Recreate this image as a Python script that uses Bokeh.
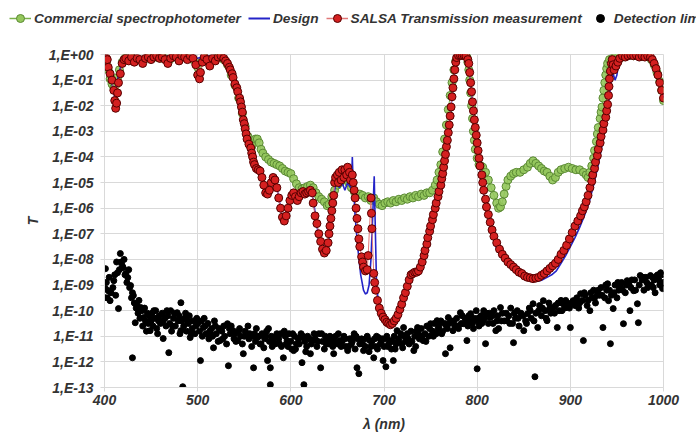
from bokeh.plotting import figure
from bokeh.layouts import column
from bokeh.models import Range1d, FixedTicker, CustomJSTickFormatter, Legend, LegendItem
from bokeh.embed import file_html
from bokeh.resources import INLINE

# ---- data: (wavelength nm, log10 T) ----
salsa = [(400,-0.3),(402,-0.15),(403,-0.2),(404,-0.5),(406,-0.75),(408,-1.0),(410,-1.4),(411,-1.8),(412,-2.1),(413,-1.9),(414,-1.5),(415,-1.1),(417,-0.75),(419,-0.35),(421,-0.2),(423,-0.15),(426,-0.25),(429,-0.1),(432,-0.3),(435,-0.15),(438,-0.2),(441,-0.35),(444,-0.15),(447,-0.1),(450,-0.2),(453,-0.1),(456,-0.05),(459,-0.15),(462,-0.1),(465,-0.2),(468,-0.35),(471,-0.15),(474,-0.05),(477,-0.1),(480,-0.25),(483,-0.05),(486,-0.1),(489,-0.2),(492,-0.05),(495,-0.15),(498,-0.4),(500,-0.8),(502,-0.95),(503,-0.7),(505,-0.3),(507,-0.1),(510,-0.2),(513,-0.45),(516,-0.15),(519,-0.25),(522,-0.1),(525,-0.05),(528,-0.15),(530,-0.25),(532,-0.35),(534,-0.5),(535,-0.6),(537,-0.75),(538,-0.9),(540,-1.15),(542,-1.3),(543,-1.45),(545,-1.7),(546,-1.85),(547,-2.05),(548,-2.25),(549,-2.55),(550,-2.7),(551,-2.9),(552,-3.1),(553,-3.3),(555,-3.5),(557,-3.65),(558,-3.85),(559,-4.0),(560,-4.2),(561,-4.3),(563,-4.45),(565,-4.5),(567,-4.55),(569,-4.8),(571,-5.1),(573,-5.4),(575,-5.45),(577,-5.3),(579,-5.0),(581,-4.8),(583,-4.9),(585,-5.2),(587,-5.6),(589,-6.0),(591,-6.35),(593,-6.5),(595,-6.3),(597,-6.0),(599,-5.7),(601,-5.5),(603,-5.4),(605,-5.55),(607,-5.7),(609,-5.55),(611,-5.4),(613,-5.35),(615,-5.45),(617,-5.4),(619,-5.35),(621,-5.3),(623,-5.4),(624,-5.8),(626,-6.3),(628,-6.6),(630,-7.0),(632,-7.3),(634,-7.6),(636,-7.75),(638,-7.65),(640,-7.35),(641,-7.0),(642,-6.7),(643,-6.4),(644,-6.1),(645,-5.8),(646,-5.5),(647,-5.0),(648,-4.8),(650,-4.7),(651,-5.0),(652,-4.6),(654,-4.9),(655,-4.5),(657,-4.8),(658,-4.5),(660,-4.7),(661,-4.4),(663,-4.6),(664,-4.9),(666,-4.7),(667,-5.0),(668,-5.3),(669,-5.6),(670,-6.0),(671,-6.4),(672,-6.8),(673,-7.2),(674,-7.5),(676,-7.9),(677,-8.1),(678,-8.3),(680,-8.45),(682,-8.4),(683,-7.85),(686,-5.6),(686.5,-6.2),(687,-6.8),(689,-8.55),(690,-8.9),(691,-9.2),(693,-9.6),(695,-9.9),(697,-10.1),(699,-10.25),(701,-10.35),(703,-10.45),(705,-10.5),(707,-10.55),(709,-10.5),(711,-10.4),(713,-10.3),(715,-10.15),(717,-9.95),(719,-9.75),(721,-9.5),(723,-9.3),(725,-9.05),(727,-8.8),(729,-8.6),(731,-8.55),(733,-8.5),(735,-8.5),(737,-8.45),(739,-8.3),(741,-8.1),(743,-7.85),(744,-7.65),(746,-7.4),(747,-7.15),(749,-6.9),(750,-6.7),(752,-6.45),(753,-6.25),(755,-6.0),(756,-5.8),(758,-5.55),(759,-5.35),(761,-5.1),(762,-4.85),(763,-4.65),(764,-4.4),(765,-4.15),(766,-3.9),(767,-3.6),(768,-3.35),(769,-3.05),(770,-2.75),(771,-2.4),(772,-2.05),(773,-1.65),(774,-1.3),(775,-0.95),(776,-0.6),(777,-0.3),(778,-0.12),(780,-0.04),(782,-0.03),(784,-0.04),(786,-0.03),(788,-0.06),(790,-0.2),(791,-0.35),(792,-0.7),(793,-1.1),(794,-1.45),(795,-1.85),(796,-2.2),(797,-2.55),(798,-2.85),(799,-3.15),(800,-3.45),(801,-3.75),(802,-4.05),(803,-4.35),(805,-4.7),(806,-5.0),(807,-5.3),(809,-5.65),(810,-5.95),(812,-6.25),(814,-6.55),(816,-6.85),(818,-7.1),(821,-7.35),(824,-7.6),(827,-7.8),(830,-7.95),(833,-8.1),(836,-8.2),(839,-8.3),(842,-8.4),(845,-8.5),(848,-8.55),(851,-8.65),(854,-8.7),(857,-8.72),(860,-8.75),(863,-8.73),(866,-8.7),(869,-8.62),(872,-8.55),(875,-8.45),(878,-8.35),(881,-8.25),(884,-8.15),(887,-8.0),(890,-7.8),(893,-7.65),(896,-7.45),(899,-7.2),(902,-6.95),(905,-6.7),(908,-6.5),(911,-6.3),(913,-6.1),(915,-5.95),(917,-5.75),(919,-5.5),(921,-5.2),(923,-4.95),(924,-4.7),(926,-4.45),(927,-4.2),(929,-3.95),(930,-3.7),(932,-3.45),(933,-3.2),(935,-2.95),(936,-2.7),(938,-2.45),(939,-2.2),(940,-1.95),(941,-1.6),(941.5,-1.25),(942,-0.95),(943,-0.65),(944,-0.35),(945,-0.2),(946,-0.4),(947,-0.6),(949,-0.45),(951,-0.3),(953,-0.15),(956,-0.05),(959,-0.1),(962,-0.05),(965,-0.02),(968,-0.05),(971,-0.03),(974,-0.1),(977,-0.05),(980,-0.1),(983,-0.05),(986,-0.1),(988,-0.2),(990,-0.35),(992,-0.55),(994,-0.8),(996,-1.1),(998,-1.4),(1000,-1.7)]

commercial = [(400,-0.35),(402,-0.3),(404,-0.6),(406,-0.95),(408,-1.15),(410,-1.3),(412,-1.2),(414,-0.9),(416,-0.6),(419,-0.3),(422,-0.15),(426,-0.2),(430,-0.15),(435,-0.2),(440,-0.25),(445,-0.15),(450,-0.15),(455,-0.1),(460,-0.15),(465,-0.15),(470,-0.2),(475,-0.1),(480,-0.2),(485,-0.1),(490,-0.15),(495,-0.2),(500,-0.5),(504,-0.3),(508,-0.15),(512,-0.3),(516,-0.2),(520,-0.15),(524,-0.1),(528,-0.2),(532,-0.4),(536,-0.8),(540,-1.2),(544,-1.7),(548,-2.3),(551,-2.8),(554,-3.2),(556,-3.5),(558,-3.6),(560,-3.45),(562,-3.3),(564,-3.3),(566,-3.45),(568,-3.7),(570,-3.85),(573,-4.0),(576,-4.1),(579,-4.2),(582,-4.25),(585,-4.3),(588,-4.35),(591,-4.45),(594,-4.55),(597,-4.6),(600,-4.65),(603,-4.85),(606,-5.05),(609,-5.2),(612,-5.25),(615,-5.2),(618,-5.15),(621,-5.1),(624,-5.2),(627,-5.4),(630,-5.55),(633,-5.65),(636,-5.75),(639,-5.9),(641,-5.85),(644,-5.55),(647,-5.3),(650,-5.1),(653,-5.0),(656,-4.9),(659,-4.85),(662,-5.0),(665,-5.2),(668,-5.35),(671,-5.5),(674,-5.45),(677,-5.5),(680,-5.6),(683,-5.55),(686,-5.7),(689,-5.6),(692,-5.75),(695,-5.85),(698,-5.9),(701,-5.8),(704,-5.75),(707,-5.8),(710,-5.7),(713,-5.75),(716,-5.65),(719,-5.7),(722,-5.6),(725,-5.65),(728,-5.55),(731,-5.6),(734,-5.5),(737,-5.55),(740,-5.45),(743,-5.5),(746,-5.4),(749,-5.4),(752,-5.3),(755,-5.1),(757,-4.9),(759,-4.6),(761,-4.3),(763,-3.8),(765,-3.3),(767,-2.75),(769,-2.15),(771,-1.6),(773,-1.1),(775,-0.6),(777,-0.25),(780,-0.06),(783,-0.03),(786,-0.04),(789,-0.1),(790,-0.3),(791,-0.6),(792,-1.0),(793,-1.5),(794,-2.0),(795,-2.5),(796,-3.0),(797,-3.35),(798,-3.7),(800,-4.05),(802,-4.3),(804,-4.35),(806,-4.4),(809,-4.6),(812,-4.9),(815,-5.2),(818,-5.5),(821,-5.8),(823,-6.0),(825,-5.95),(827,-5.75),(829,-5.45),(831,-5.15),(833,-4.9),(836,-4.75),(839,-4.65),(842,-4.6),(846,-4.6),(850,-4.5),(854,-4.4),(857,-4.25),(860,-4.15),(863,-4.25),(866,-4.35),(869,-4.45),(872,-4.55),(875,-4.6),(878,-4.75),(881,-4.9),(884,-4.8),(887,-4.6),(890,-4.5),(894,-4.45),(898,-4.4),(902,-4.45),(906,-4.5),(910,-4.5),(914,-4.6),(917,-4.7),(919,-4.8),(921,-4.6),(923,-4.35),(925,-4.05),(926,-3.75),(928,-3.4),(929,-3.1),(930,-2.85),(932,-2.5),(933,-2.25),(934,-2.05),(935,-1.7),(936,-1.4),(937,-1.1),(938,-0.8),(939,-0.55),(940,-0.35),(942,-0.2),(945,-0.15),(948,-0.1),(952,-0.05),(956,-0.1),(960,-0.05),(964,-0.02),(968,-0.05),(972,-0.05),(976,-0.08),(980,-0.05),(984,-0.1),(987,-0.2),(990,-0.4),(993,-0.7),(996,-1.05),(998,-1.4),(1000,-1.8)]

design = [(400,-0.1),(403,-0.2),(406,-0.6),(409,-1.3),(411,-1.7),(413,-1.2),(415,-0.8),(418,-0.4),(421,-0.15),(430,-0.1),(440,-0.1),(450,-0.05),(460,-0.1),(470,-0.05),(480,-0.1),(490,-0.05),(500,-0.15),(510,-0.05),(520,-0.1),(527,-0.1),(532,-0.3),(537,-0.8),(541,-1.3),(545,-1.9),(549,-2.6),(553,-3.3),(556,-3.8),(558,-4.0),(560,-4.2),(562,-4.05),(564,-4.4),(567,-4.6),(570,-5.0),(573,-5.4),(576,-5.4),(579,-5.0),(581,-4.8),(584,-5.0),(587,-5.6),(590,-6.2),(593,-6.5),(596,-6.2),(599,-5.7),(602,-5.45),(606,-5.6),(610,-5.5),(614,-5.3),(618,-5.4),(622,-5.3),(625,-5.9),(628,-6.7),(631,-7.3),(634,-7.65),(637,-7.75),(640,-7.4),(643,-6.7),(645,-6.0),(647,-5.3),(649,-4.9),(652,-5.2),(655,-5.0),(658,-5.3),(661,-5.0),(664,-5.2),(665.5,-4.6),(666,-4.0),(666.5,-4.6),(667.5,-5.3),(669,-6.3),(672,-7.6),(675,-8.6),(678,-9.2),(680,-9.35),(682,-9.3),(684,-9.0),(686,-8.0),(688,-6.2),(689.5,-4.75),(690.5,-6.5),(692,-9.0),(695,-10.0),(699,-10.35),(703,-10.5),(707,-10.55),(711,-10.45),(715,-10.15),(719,-9.75),(723,-9.3),(727,-8.8),(730,-8.55),(735,-8.5),(739,-8.3),(743,-7.85),(747,-7.25),(751,-6.6),(755,-6.05),(759,-5.4),(762,-4.9),(765,-4.2),(768,-3.4),(771,-2.4),(774,-1.3),(777,-0.35),(780,-0.05),(785,-0.02),(789,-0.1),(791,-0.4),(793,-1.1),(795,-1.9),(797,-2.7),(799,-3.3),(801,-3.9),(804,-4.7),(807,-5.4),(811,-6.2),(815,-6.9),(820,-7.5),(825,-7.85),(830,-8.1),(835,-8.3),(840,-8.45),(845,-8.6),(850,-8.7),(855,-8.8),(860,-8.85),(865,-8.85),(870,-8.8),(875,-8.7),(880,-8.6),(885,-8.45),(890,-8.15),(895,-7.85),(900,-7.5),(905,-7.15),(910,-6.75),(915,-6.3),(920,-5.8),(925,-5.1),(930,-4.3),(935,-3.35),(940,-2.2),(944,-1.0),(946,-0.75),(948,-1.0),(950,-0.8),(952,-0.3),(955,-0.05),(960,-0.05),(970,-0.05),(980,-0.05),(985,-0.1),(990,-0.3),(995,-0.9),(1000,-1.7)]

detection = [(401,-8.36),(401,-9.14),(400,-9.49),(404,-9.22),(406,-9.61),(410,-8.83),(414,-8.52),(415,-9.92),(417,-7.77),(419,-8.24),(420,-8.32),(423,-8.55),(425,-8.71),(428,-9.02),(430,-9.3),(431,-9.41),(430,-11.84),(435,-9.8),(439,-9.88),(433,-10.47),(442,-10.27),(449,-10.78),(453,-10.0),(457,-10.27),(463,-10.39),(463,-11.09),(469,-11.64),(471,-10.0),(478,-10.08),(482,-9.69),(482,-10.78),(484,-12.97),(489,-10.39),(492,-11.05),(500,-10.51),(503,-11.95),(506,-10.66),(514,-10.9),(517,-11.45),(524,-11.17),(532,-10.51),(533,-12.15),(538,-10.78),(543,-11.17),(549,-11.68),(553,-10.9),(560,-12.23),(564,-11.05),(571,-11.45),(575,-11.95),(578,-12.23),(578,-12.89),(581,-11.17),(589,-10.9),(592,-11.84),(596,-11.17),(603,-11.56),(610,-11.05),(612,-12.03),(614,-12.89),(621,-11.68),(624,-11.17),(632,-12.23),(639,-11.17),(646,-11.68),(653,-11.17),(661,-11.56),(667,-11.05),(671,-12.23),(673,-12.46),(678,-11.56),(685,-11.17),(689,-11.84),(694,-11.05),
(699,-11.95),(702,-12.19),(707,-11.17),(710,-11.95),(714,-10.78),(720,-11.45),(721,-10.66),(732,-11.56),(736,-10.66),(742,-11.17),(750,-10.51),(757,-10.39),(766,-11.68),(769,-10.27),(771,-11.45),(774,-10.78),(782,-10.08),(785,-10.51),(789,-11.17),(793,-10.12),(800,-12.27),(800,-10.39),(807,-10.0),(809,-11.29),(814,-10.27),(820,-10.78),(825,-9.88),(832,-10.39),(839,-11.25),(843,-10.0),(850,-10.78),(854,-10.12),(860,-9.73),(862,-12.58),(865,-10.66),(871,-9.61),(875,-10.39),(882,-9.88),(886,-10.66),(892,-9.73),(900,-10.66),(903,-9.61),(911,-9.34),(914,-11.17),(921,-10.0),(929,-9.34),(935,-10.66),(940,-8.95),(941,-9.61),(943,-11.29),(946,-9.92),(954,-9.1),(957,-10.51),(961,-8.83),(964,-10.0),(968,-9.22),(972,-9.73),(973,-10.47),(975,-8.63),(983,-9.1),(986,-8.63),(989,-9.1),(993,-8.63),(997,-8.52),(999,-9.14),
(402,-8.9),(403,-9.5),(405,-8.7),(407,-9.3),(409,-9.1),(411,-8.6),(412,-9.4),(413,-8.1),(416,-8.4),(418,-8.1),(421,-8.0),(422,-8.6),(424,-8.9),(426,-8.4),(427,-9.1),(429,-9.5),
(432,-9.7),(434,-9.9),(436,-10.1),(437,-9.6),(438,-10.3),(440,-10.0),(441,-10.6),(443,-9.9),(444,-10.4),(446,-10.1),(447,-10.5),(448,-10.2),(450,-10.4),(451,-10.1),(452,-10.6),(454,-10.3),(455,-10.0),(456,-10.7),(458,-10.4),(459,-10.2),(460,-10.5),
(462,-10.1),(465,-10.3),(466,-10.6),(468,-10.2),(470,-10.5),(472,-10.8),(474,-10.3),(475,-10.1),(476,-10.6),(479,-10.4),(480,-10.2),(481,-10.9),(485,-10.6),(486,-10.3),(488,-10.8),(490,-10.5),(491,-10.2),(494,-10.7),(495,-10.4),(497,-10.9),(498,-10.6),
(502,-10.8),(504,-10.4),(505,-11.0),(508,-10.6),(509,-10.9),(511,-10.5),(512,-11.1),(515,-10.7),(516,-11.0),(519,-10.6),(520,-10.9),(522,-11.2),(526,-10.8),(528,-10.6),(529,-11.0),(531,-11.3),(535,-10.9),(536,-10.6),(540,-10.9),(541,-11.2),(545,-10.7),(546,-11.0),(548,-11.3),(551,-10.8),(555,-11.1),(556,-10.9),(558,-11.4),
(561,-10.9),(562,-11.2),(566,-11.0),(568,-11.3),(569,-10.9),(572,-11.1),(574,-10.8),(577,-11.2),(579,-11.0),(583,-11.3),(585,-10.9),(587,-11.1),(590,-11.4),(594,-11.0),(595,-11.3),(598,-10.9),(600,-11.2),(601,-11.5),(604,-11.0),(606,-11.3),(608,-11.1),(611,-10.9),(615,-11.2),(617,-11.4),(618,-11.0),
(622,-11.3),(626,-11.1),(628,-11.4),(630,-10.9),(634,-11.2),(636,-11.5),(637,-11.0),(641,-11.3),(643,-11.1),(645,-11.4),(648,-11.0),(650,-11.3),(655,-11.2),(657,-11.0),(659,-11.4),(663,-11.1),(665,-11.3),(669,-11.5),(670,-11.0),(674,-11.3),(676,-11.1),(680,-11.4),(682,-11.0),(684,-11.6),(687,-11.2),(691,-11.4),(692,-11.0),(696,-11.3),(698,-11.1),
(700,-11.4),(703,-11.0),(705,-11.3),(708,-11.5),(711,-11.0),(713,-11.3),(716,-11.1),(718,-10.9),(723,-11.2),(725,-10.9),(727,-11.3),(729,-10.8),(733,-11.0),(735,-10.8),(738,-11.1),(740,-10.7),(744,-10.9),(746,-10.6),(748,-11.0),(752,-10.8),(754,-10.5),(756,-10.9),(759,-10.6),(761,-10.4),(763,-10.8),(765,-10.5),(768,-10.7),(772,-10.4),(776,-10.6),(778,-10.3),(780,-10.7),(783,-10.5),(787,-10.3),(790,-10.6),(791,-10.2),(795,-10.5),(797,-10.3),(799,-10.0),
(802,-10.6),(804,-10.2),(806,-10.4),(810,-10.1),(812,-10.5),(816,-10.2),(818,-10.0),(821,-10.4),(823,-10.7),(827,-10.1),(829,-10.4),(834,-10.2),(836,-9.9),(838,-10.5),(841,-10.3),(845,-10.6),(847,-10.1),(852,-10.4),(856,-9.9),(858,-10.3),(863,-10.1),(867,-9.8),(869,-10.2),(873,-10.0),(877,-9.7),(879,-10.1),(884,-9.8),(888,-10.0),(890,-9.6),(894,-9.9),(897,-9.7),
(905,-9.8),(907,-9.5),(909,-9.9),(913,-9.6),(916,-9.4),(918,-9.8),(923,-9.5),(925,-9.2),(927,-9.7),(931,-9.4),(933,-9.1),(937,-9.5),(939,-9.2),(944,-9.4),(948,-9.0),(950,-9.5),(952,-9.2),(955,-8.9),(959,-9.3),(963,-9.0),(966,-8.8),(970,-9.2),(977,-8.8),(979,-9.2),(981,-8.7),(985,-9.0),(988,-8.7),(991,-9.3),(995,-8.8),(998,-8.6),(1000,-8.9),
(445,-10.8),(457,-10.9),(467,-10.0),(473,-10.6),(483,-10.4),(487,-10.1),(493,-10.9),(499,-10.3),(507,-10.3),(513,-10.8),(518,-10.4),(523,-10.7),(527,-11.1),(534,-10.7),(539,-11.1),(544,-10.8),(550,-11.0),(554,-10.6),(559,-11.0),(563,-10.7),(567,-11.3),(573,-11.0),(576,-10.7),(580,-11.4),(584,-11.0),(588,-11.3),(593,-10.8),(597,-11.4),(602,-10.9),(605,-11.5),(609,-11.3),(613,-11.0),(616,-11.6),(620,-11.1),(625,-10.9),(629,-11.2),(633,-10.9),(638,-11.3),(642,-11.0),(647,-11.2),(651,-10.9),(654,-11.4),(658,-11.1),(662,-11.4),(666,-11.2),(668,-10.9),(672,-11.1),(677,-11.3),(681,-11.1),(686,-11.4),(690,-11.1),(693,-11.5),(697,-11.2),(701,-11.1),(704,-11.4),(709,-11.2),(712,-11.5),(715,-11.2),(719,-11.3),(722,-11.0),(726,-11.1),(730,-11.2),(734,-11.4),(737,-10.9),(741,-11.0),(745,-11.2),(749,-10.7),(753,-11.0),(758,-10.7),(762,-10.9),(767,-10.6),(770,-10.5),(775,-10.4),(779,-10.6),(784,-10.2),(788,-10.5),(792,-10.4),(796,-10.7),(801,-10.3),(805,-10.5),(808,-10.3),(813,-10.1),(817,-10.5),(822,-10.2),(826,-10.4),(831,-10.1),(835,-10.5),(840,-10.1),(844,-10.3),(849,-10.2),(853,-10.5),(857,-10.0),(861,-10.4),(866,-10.0),(870,-9.9),(874,-10.3),(878,-9.9),(883,-10.1),(887,-9.7),(891,-10.0),(895,-9.6),(899,-9.9),(902,-9.7),(906,-9.6),(910,-9.7),(915,-9.3),(919,-9.6),(922,-9.3),(926,-9.5),(930,-9.2),(934,-9.4),(938,-9.0),(942,-9.2),(947,-9.3),(951,-8.9),(956,-9.2),(960,-9.0),(965,-9.1),(969,-8.8),(974,-9.0),(978,-8.7),(982,-8.9),(987,-9.0),(990,-8.8),(994,-8.6),(996,-9.0)]

series_labels = ["Commercial spectrophotometer", "Design", "SALSA Transmission measurement", "Detection limit"]
x_ticks = [400, 500, 600, 700, 800, 900, 1000]
y_exponents = list(range(0, -14, -1))


def split(pairs):
    return [a for a, _ in pairs], [10 ** b for _, b in pairs]


sx, sy = split(salsa)
cx, cy = split(commercial)
dx, dy = split(design)
kx, ky = split(detection)

FONT = "Liberation Sans"
TXT = "#333333"
GRID = "#d9d9d9"
FS = "14px"
G_FILL, G_LINE, G_EDGE = "#94c75c", "#7ab04a", "#5b8a34"
B_LINE = "#2424c8"
R_FILL, R_LINE, R_EDGE = "#d42020", "#e07878", "#560000"

# ---------- main chart ----------
p = figure(width=696, height=415, output_backend="svg", toolbar_location=None,
           x_range=Range1d(400, 1000), y_range=Range1d(1e-13, 1), y_axis_type="log",
           min_border_left=104, min_border_right=33, min_border_top=24, min_border_bottom=58,
           background_fill_color="white", border_fill_color="white")
p.outline_line_color = GRID

p.xaxis.ticker = FixedTicker(ticks=x_ticks)
p.yaxis.ticker = FixedTicker(ticks=[10 ** e for e in y_exponents], minor_ticks=[])
p.yaxis.formatter = CustomJSTickFormatter(code="""
const e = Math.round(Math.log10(tick));
const a = Math.abs(e);
return "1,E" + (e < 0 ? "-" : "+") + (a < 10 ? "0" : "") + a;
""")
for ax in (p.xaxis, p.yaxis):
    ax.axis_line_color = GRID
    ax.major_tick_line_color = GRID
    ax.major_tick_out = 4
    ax.major_tick_in = 0
    ax.minor_tick_line_color = None
    ax.major_label_text_font = FONT
    ax.major_label_text_font_style = "bold italic"
    ax.major_label_text_font_size = FS
    ax.major_label_text_color = TXT
    ax.axis_label_text_font = FONT
    ax.axis_label_text_font_style = "bold italic"
    ax.axis_label_text_font_size = FS
    ax.axis_label_text_color = TXT
p.xaxis.axis_label = "λ (nm)"
p.yaxis.axis_label = "T"
p.xaxis.major_label_standoff = 3
p.xaxis.axis_label_standoff = 8
p.yaxis.major_label_standoff = 7
p.yaxis.axis_label_standoff = 5
p.grid.grid_line_color = GRID
p.grid.grid_line_width = 1

p.line(cx, cy, line_color=G_LINE, line_width=1)
p.scatter(cx, cy, size=8, marker="circle", fill_color=G_FILL, line_color=G_EDGE, line_width=1, fill_alpha=0.9)
p.line(dx, dy, line_color=B_LINE, line_width=1.6)
p.line(sx, sy, line_color=R_LINE, line_width=1)
p.scatter(sx, sy, size=8, marker="circle", fill_color=R_FILL, line_color=R_EDGE, line_width=1)
p.scatter(kx, ky, size=6, marker="circle", fill_color="black", line_color="black")

# ---------- legend strip (its own small canvas above the chart) ----------
lg = figure(width=696, height=30, output_backend="svg", toolbar_location=None,
            x_range=Range1d(0, 1), y_range=Range1d(0, 1),
            x_axis_location=None, y_axis_location=None, min_border=0,
            background_fill_color="white", border_fill_color="white")
lg.outline_line_color = None
lg.grid.visible = False
for fig in (lg, p):
    if "frame_align" in fig.properties():
        fig.frame_align = False
# legend proxies: same series, drawn outside this strip's 0..1 range so only their legend glyphs show
l_g1 = lg.line(cx, cy, line_color=G_LINE, line_width=1.5)
l_g2 = lg.scatter(cx, cy, size=6, marker="circle", fill_color=G_FILL, line_color=G_EDGE)
l_b = lg.line(dx, dy, line_color=B_LINE, line_width=2)
l_r1 = lg.line(sx, sy, line_color=R_LINE, line_width=1.5)
l_r2 = lg.scatter(sx, sy, size=6, marker="circle", fill_color=R_FILL, line_color=R_EDGE)
l_k = lg.scatter(kx, ky, size=5, marker="circle", fill_color="black", line_color="black")

legend = Legend(items=[
    LegendItem(label=series_labels[0], renderers=[l_g1, l_g2]),
    LegendItem(label=series_labels[1], renderers=[l_b]),
    LegendItem(label=series_labels[2], renderers=[l_r1, l_r2]),
    LegendItem(label=series_labels[3], renderers=[l_k]),
], orientation="horizontal", location=(9, 2),
    label_text_font=FONT, label_text_font_style="bold italic", label_text_font_size="13.7px",
    label_text_color=TXT, glyph_width=22, glyph_height=20, label_height=20,
    label_standoff=3, spacing=7, padding=0, margin=0,
    border_line_color=None, background_fill_alpha=0)
lg.add_layout(legend)

layout = column(lg, p, spacing=0)
open("out.html", "w").write(file_html(layout, INLINE))
